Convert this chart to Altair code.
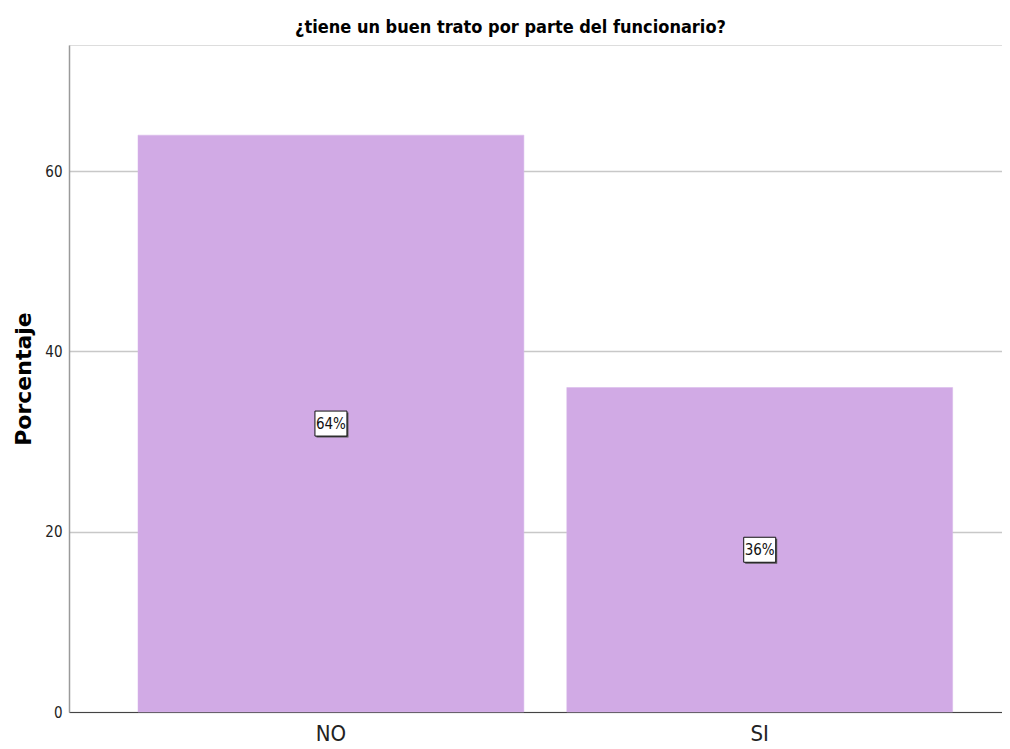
import altair as alt
import pandas as pd

categories = ["NO", "SI"]
values = [64, 36]
labels = ["64%", "36%"]

df = pd.DataFrame({"cat": categories, "val": values, "lab": labels})

NARROW = "DejaVu Sans Condensed, Liberation Sans Narrow, sans-serif"

xscale = alt.Scale(paddingInner=0.1, paddingOuter=0.138, align=0.583)
yscale = alt.Scale(domain=[0, 74], nice=False)

base = alt.Chart(df)

bars = base.mark_bar(color="#D1AAE5", stroke="#D8B8EA", strokeWidth=0.5).encode(
    x=alt.X("cat:N", scale=xscale, sort=categories,
            axis=alt.Axis(title=None, labelAngle=0, labelFont=NARROW, labelFontSize=22,
                          labelColor="#222222", labelPadding=11, ticks=False,
                          domainColor="#444444", domainWidth=1.2, grid=False)),
    y=alt.Y("val:Q", scale=yscale,
            axis=alt.Axis(title="Porcentaje", values=[0, 20, 40, 60], grid=True,
                          gridColor="#C8C8C8", gridWidth=1.3, ticks=False,
                          labelFont=NARROW, labelFontSize=15, labelColor="#222222",
                          labelPadding=7, domainColor="#9A9A9A", domainWidth=1.5,
                          titleFont="DejaVu Sans, sans-serif", titleFontSize=22,
                          titleFontWeight="bold", titleColor="#000000", titlePadding=9)),
)

box_path = "M-1.28,-1H1.28V1H-1.28Z"

shadow = base.transform_calculate(mid="datum.val/2").mark_point(
    shape=box_path, size=625, filled=True, color="#555555", opacity=1, xOffset=1.5, yOffset=1.5
).encode(x=alt.X("cat:N", sort=categories, scale=xscale), y=alt.Y("mid:Q", scale=yscale))

box = base.transform_calculate(mid="datum.val/2").mark_point(
    shape=box_path, size=625, filled=True, fill="#FFFFFF", stroke="#111111", strokeWidth=1, opacity=1
).encode(x=alt.X("cat:N", sort=categories, scale=xscale), y=alt.Y("mid:Q", scale=yscale))

text = base.transform_calculate(mid="datum.val/2").mark_text(
    font=NARROW, fontSize=15, color="#111111", baseline="middle", align="center"
).encode(x=alt.X("cat:N", sort=categories, scale=xscale), y=alt.Y("mid:Q", scale=yscale),
         text="lab:N")

chart = alt.layer(bars, shadow, box, text).properties(
    width=933, height=667,
    padding={"left": 61, "top": 37, "right": 0, "bottom": 36},
    autosize=alt.AutoSizeParams(type="none"),
    title=alt.TitleParams("¿tiene un buen trato por parte del funcionario?",
                          font=NARROW, fontSize=18, fontWeight="bold", color="#000000",
                          anchor="middle", dx=-25, offset=8),
).configure_view(stroke=None).configure(background="white")

chart.save("out.html", embed_options={"renderer": "svg", "actions": False})
